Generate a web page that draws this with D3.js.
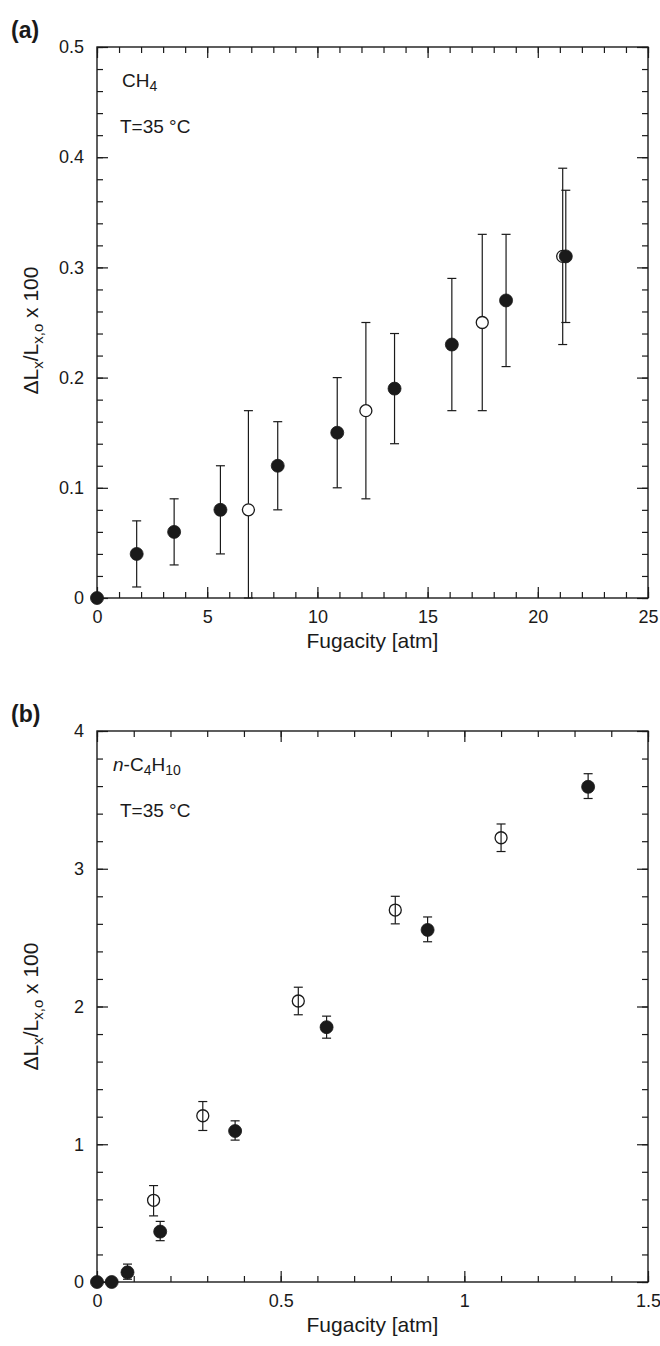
<!DOCTYPE html>
<html>
<head>
<meta charset="utf-8">
<script src="https://cdn.jsdelivr.net/npm/d3@7"></script>
<style>
  body { margin: 0; background: #fff; }
  svg { display: block; font-family: "Liberation Sans", Arial, Helvetica, sans-serif; }
</style>
</head>
<body>
<svg id="chart" width="660" height="1346"></svg>
<script>
// ---------- Panel (a): CH4 ----------
const aXTicks = [0, 5, 10, 15, 20, 25];
const aYTicks = [0, 0.1, 0.2, 0.3, 0.4, 0.5];
const aYTickLabels = ["0", "0.1", "0.2", "0.3", "0.4", "0.5"];
const aFilledX  = [0, 1.8, 3.5, 5.6, 8.2, 10.9, 13.5, 16.1, 18.56, 21.27];
const aFilledY  = [0, 0.04, 0.06, 0.08, 0.12, 0.15, 0.19, 0.23, 0.27, 0.31];
const aFilledLo = [0, 0.01, 0.03, 0.04, 0.08, 0.10, 0.14, 0.17, 0.21, 0.25];
const aFilledHi = [0, 0.07, 0.09, 0.12, 0.16, 0.20, 0.24, 0.29, 0.33, 0.37];
const aOpenX  = [6.87, 12.2, 17.48, 21.13];
const aOpenY  = [0.08, 0.17, 0.25, 0.31];
const aOpenLo = [0, 0.09, 0.17, 0.23];
const aOpenHi = [0.17, 0.25, 0.33, 0.39];

// ---------- Panel (b): n-C4H10 ----------
const bXTicks = [0, 0.5, 1, 1.5];
const bXTickLabels = ["0", "0.5", "1", "1.5"];
const bYTicks = [0, 1, 2, 3, 4];
const bFilledX  = [0, 0.04, 0.083, 0.172, 0.376, 0.625, 0.90, 1.337];
const bFilledY  = [0, 0, 0.07, 0.366, 1.096, 1.85, 2.556, 3.595];
const bFilledLo = [0, 0, 0.02, 0.30, 1.03, 1.77, 2.47, 3.51];
const bFilledHi = [0, 0, 0.13, 0.44, 1.17, 1.93, 2.65, 3.69];
const bOpenX  = [0.154, 0.288, 0.548, 0.812, 1.10];
const bOpenY  = [0.593, 1.207, 2.04, 2.70, 3.225];
const bOpenLo = [0.48, 1.10, 1.94, 2.60, 3.125];
const bOpenHi = [0.70, 1.31, 2.14, 2.80, 3.325];

const svg = d3.select("#chart");
const INK = "#1a1a1a";

function zip(xs, ys, lo, hi) {
  return xs.map((x, i) => ({ x, y: ys[i], lo: lo[i], hi: hi[i] }));
}

function panel(cfg) {
  const { left, top, w, h } = cfg;
  const g = svg.append("g").attr("transform", `translate(${left},${top})`);
  const x = d3.scaleLinear().domain(cfg.xDomain).range([0, w]);
  const y = d3.scaleLinear().domain(cfg.yDomain).range([h, 0]);

  const styleAxis = sel => {
    sel.select(".domain").remove();
    sel.selectAll("line").attr("stroke", INK).attr("stroke-width", 1.2);
    sel.selectAll("text").attr("fill", INK).attr("font-size", 18)
      .attr("font-family", '"Liberation Sans", Arial, sans-serif');
  };

  // minor ticks
  const xMinor = d3.range(cfg.xDomain[0], cfg.xDomain[1] + 1e-9, cfg.xMinor);
  const yMinor = d3.range(cfg.yDomain[0], cfg.yDomain[1] + 1e-9, cfg.yMinor);
  g.append("g").attr("transform", `translate(0,${h})`)
    .call(d3.axisBottom(x).tickValues(xMinor).tickSize(-6).tickFormat("")).call(styleAxis);
  g.append("g")
    .call(d3.axisTop(x).tickValues(xMinor).tickSize(-6).tickFormat("")).call(styleAxis);
  g.append("g")
    .call(d3.axisLeft(y).tickValues(yMinor).tickSize(-6).tickFormat("")).call(styleAxis);
  g.append("g").attr("transform", `translate(${w},0)`)
    .call(d3.axisRight(y).tickValues(yMinor).tickSize(-6).tickFormat("")).call(styleAxis);

  // major ticks
  g.append("g").attr("transform", `translate(0,${h})`)
    .call(d3.axisBottom(x).tickValues(cfg.xTicks).tickSize(-11).tickPadding(12)
      .tickFormat((d, i) => cfg.xLabels[i])).call(styleAxis);
  g.append("g")
    .call(d3.axisTop(x).tickValues(cfg.xTicks).tickSize(-11).tickFormat("")).call(styleAxis);
  g.append("g")
    .call(d3.axisLeft(y).tickValues(cfg.yTicks).tickSize(-11).tickPadding(13)
      .tickFormat((d, i) => cfg.yLabels[i])).call(styleAxis);
  g.append("g").attr("transform", `translate(${w},0)`)
    .call(d3.axisRight(y).tickValues(cfg.yTicks).tickSize(-11).tickFormat("")).call(styleAxis);

  // frame
  g.append("rect").attr("x", 0).attr("y", 0).attr("width", w).attr("height", h)
    .attr("fill", "none").attr("stroke", INK).attr("stroke-width", 1.4);

  // error bars
  const cap = 4.5;
  function errBars(data) {
    const eg = g.append("g").attr("stroke", INK).attr("stroke-width", 1.2).attr("fill", "none");
    data.filter(d => d.hi > d.lo).forEach(d => {
      const px = x(d.x);
      eg.append("line").attr("x1", px).attr("x2", px).attr("y1", y(d.lo)).attr("y2", y(d.hi));
      eg.append("line").attr("x1", px - cap).attr("x2", px + cap).attr("y1", y(d.hi)).attr("y2", y(d.hi));
      eg.append("line").attr("x1", px - cap).attr("x2", px + cap).attr("y1", y(d.lo)).attr("y2", y(d.lo));
    });
  }
  const open = zip(...cfg.open);
  const filled = zip(...cfg.filled);
  errBars(open);
  g.append("g").selectAll("circle").data(open).join("circle")
    .attr("cx", d => x(d.x)).attr("cy", d => y(d.y)).attr("r", 6)
    .attr("fill", cfg.openFill).attr("stroke", INK).attr("stroke-width", 1.3);
  errBars(filled);
  g.append("g").selectAll("circle").data(filled).join("circle")
    .attr("cx", d => x(d.x)).attr("cy", d => y(d.y)).attr("r", 6.5)
    .attr("fill", INK).attr("stroke", INK).attr("stroke-width", 0.8);

  // axis titles
  g.append("text").attr("x", w / 2).attr("y", h + 50).attr("text-anchor", "middle")
    .attr("font-size", 21).attr("fill", INK).text("Fugacity [atm]");

  const yl = g.append("text")
    .attr("transform", `translate(${38 - left},${h / 2 + cfg.yLabelShift}) rotate(-90)`)
    .attr("text-anchor", "middle").attr("font-size", 21).attr("fill", INK);
  yl.append("tspan").text("\u0394L");
  yl.append("tspan").attr("font-size", 15).attr("dy", 5).text("x");
  yl.append("tspan").attr("dy", -5).text("/L");
  yl.append("tspan").attr("font-size", 15).attr("dy", 5).text("x,o");
  yl.append("tspan").attr("dy", -5).text(" x 100");

  // panel label
  svg.append("text").attr("x", 11).attr("y", top - 9).attr("font-size", 23)
    .attr("font-weight", "bold").attr("fill", INK).text(cfg.tag);

  // annotations
  const a1 = g.append("text").attr("x", cfg.ann1x).attr("y", 40).attr("font-size", 19).attr("fill", INK);
  cfg.ann1(a1);
  g.append("text").attr("x", 23).attr("y", 86).attr("font-size", 19).attr("fill", INK).text("T=35 \u00B0C");
}

panel({
  tag: "(a)", left: 97, top: 47, w: 551, h: 551,
  xDomain: [0, 25], yDomain: [0, 0.5], xMinor: 1, yMinor: 0.02,
  xTicks: aXTicks, xLabels: aXTicks.map(String),
  yTicks: aYTicks, yLabels: aYTickLabels,
  filled: [aFilledX, aFilledY, aFilledLo, aFilledHi],
  open: [aOpenX, aOpenY, aOpenLo, aOpenHi],
  openFill: "#fff", yLabelShift: 8, ann1x: 25,
  ann1: t => {
    t.append("tspan").text("CH");
    t.append("tspan").attr("font-size", 14).attr("dy", 4).text("4");
  }
});

panel({
  tag: "(b)", left: 97, top: 731, w: 551, h: 551,
  xDomain: [0, 1.5], yDomain: [0, 4], xMinor: 0.1, yMinor: 0.2,
  xTicks: bXTicks, xLabels: bXTickLabels,
  yTicks: bYTicks, yLabels: bYTicks.map(String),
  filled: [bFilledX, bFilledY, bFilledLo, bFilledHi],
  open: [bOpenX, bOpenY, bOpenLo, bOpenHi],
  openFill: "none", yLabelShift: 0, ann1x: 16,
  ann1: t => {
    t.append("tspan").attr("font-style", "italic").text("n");
    t.append("tspan").text("-C");
    t.append("tspan").attr("font-size", 14).attr("dy", 4).text("4");
    t.append("tspan").attr("dy", -4).text("H");
    t.append("tspan").attr("font-size", 14).attr("dy", 4).text("10");
  }
});
</script>
</body>
</html>
